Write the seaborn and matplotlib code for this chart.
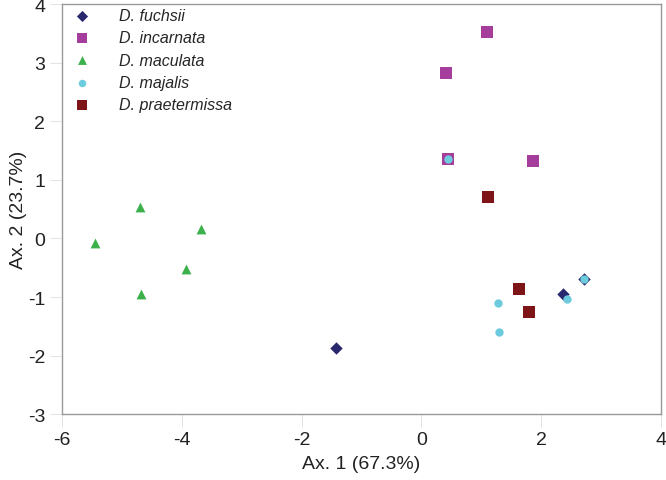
import matplotlib
matplotlib.use("Agg")
import matplotlib.pyplot as plt
import seaborn as sns
import pandas as pd

# PCoA scores
species_order = ["D. fuchsii", "D. incarnata", "D. maculata", "D. majalis", "D. praetermissa"]

fuchsii_x = [-1.43, 2.36, 2.71]
fuchsii_y = [-1.87, -0.95, -0.70]

incarnata_x = [0.41, 1.09, 0.44, 1.86]
incarnata_y = [2.83, 3.53, 1.36, 1.33]

maculata_x = [-4.70, -5.45, -3.68, -3.93, -4.68]
maculata_y = [0.53, -0.07, 0.17, -0.53, -0.94]

majalis_x = [0.44, 1.28, 1.29, 2.43, 2.71]
majalis_y = [1.36, -1.11, -1.60, -1.04, -0.70]

praetermissa_x = [1.11, 1.63, 1.79]
praetermissa_y = [0.70, -0.87, -1.26]

xs = [fuchsii_x, incarnata_x, maculata_x, majalis_x, praetermissa_x]
ys = [fuchsii_y, incarnata_y, maculata_y, majalis_y, praetermissa_y]

rows = []
for name, sx, sy in zip(species_order, xs, ys):
    for a, b in zip(sx, sy):
        rows.append({"Ax1": a, "Ax2": b, "species": name})
df = pd.DataFrame(rows)

palette = {
    "D. fuchsii": "#29286f",
    "D. incarnata": "#a53d9c",
    "D. maculata": "#3bb04b",
    "D. majalis": "#6ccbdc",
    "D. praetermissa": "#7d1417",
}
markers = {
    "D. fuchsii": "D",
    "D. incarnata": "s",
    "D. maculata": "^",
    "D. majalis": "o",
    "D. praetermissa": "s",
}
sizes = {
    "D. fuchsii": 40,
    "D. incarnata": 70,
    "D. maculata": 50,
    "D. majalis": 36,
    "D. praetermissa": 70,
}

sns.set_style("white")
plt.rcParams["font.family"] = ["Liberation Sans", "DejaVu Sans"]
plt.rcParams["axes.unicode_minus"] = False

fig = plt.figure(figsize=(6.66, 4.81), dpi=100)
ax = fig.add_axes([0.093, 0.137, 0.8995, 0.852])

for name in species_order:
    sub = df[df["species"] == name]
    sns.scatterplot(data=sub, x="Ax1", y="Ax2", color=palette[name],
                    marker=markers[name], s=sizes[name], linewidth=0,
                    label=name, ax=ax)

ax.set_xlim(-6, 4)
ax.set_ylim(-3, 4)
ax.set_xticks([-6, -4, -2, 0, 2, 4])
ax.set_yticks([-3, -2, -1, 0, 1, 2, 3, 4])
ax.set_xlabel("Ax. 1 (67.3%)", fontsize=14, color="#222222", labelpad=5)
ax.set_ylabel("Ax. 2 (23.7%)", fontsize=14, color="#222222", labelpad=1)
ax.tick_params(axis="both", direction="out", length=9, width=0.6,
               bottom=True, left=True,
               color="#dddddd", labelsize=14, labelcolor="#222222", pad=3)
for side in ["top", "bottom", "left", "right"]:
    ax.spines[side].set_color("#999999")
    ax.spines[side].set_linewidth(1.0)

leg = ax.legend(loc="upper left", frameon=False,
                prop={"style": "italic", "size": 11.5}, handletextpad=1.3,
                labelspacing=0.45, borderaxespad=0.0, borderpad=0.25,
                markerscale=0.9)

fig.savefig("out.png", dpi=100)
